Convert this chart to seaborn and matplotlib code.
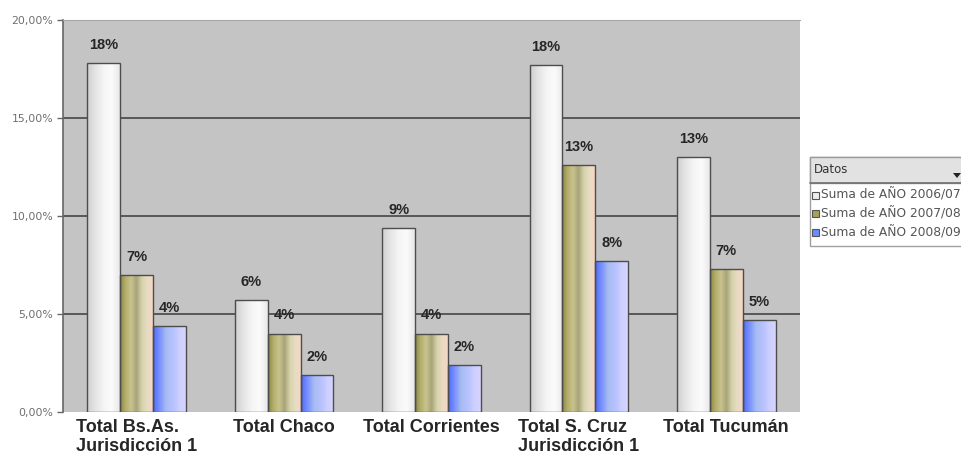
import numpy as np
import pandas as pd
import seaborn as sns
import matplotlib.pyplot as plt
from matplotlib.colors import LinearSegmentedColormap
from matplotlib.patches import Rectangle, Polygon
from matplotlib.ticker import FuncFormatter

# Categories and series (percent values)
regiones = ["Total Bs.As.\nJurisdicción 1", "Total Chaco", "Total Corrientes",
            "Total S. Cruz\nJurisdicción 1", "Total Tucumán"]
series = ["Suma de AÑO 2006/07", "Suma de AÑO 2007/08", "Suma de AÑO 2008/09"]
anio_2006_07 = [17.8, 5.7, 9.4, 17.7, 13.0]
anio_2007_08 = [7.0, 4.0, 4.0, 12.6, 7.3]
anio_2008_09 = [4.4, 1.9, 2.4, 7.7, 4.7]
y_ticks = [0, 5, 10, 15, 20]
titulo_leyenda = "Datos"

df = pd.DataFrame({
    "region": regiones * 3,
    "serie": np.repeat(series, len(regiones)),
    "valor": anio_2006_07 + anio_2007_08 + anio_2008_09,
})

# Horizontal gradient stops per series, left to right
gradientes = [
    ["#cfcfcf", "#e4e4e4", "#f5f5f5", "#fbfbfb", "#e8e8e8"],
    ["#8c8742", "#b3ae6a", "#c9c48e", "#a8a479", "#d6d3ab", "#e8dcc4", "#f6d6c4"],
    ["#4a6bff", "#7b90ff", "#a6bdf0", "#b6c1ff", "#cccfff", "#d8d5ff"],
]
colores_leyenda = ["#eeeeee", "#a6a258", "#6a8cff"]

sns.set_style("white")
plt.rcParams["font.family"] = ["Liberation Sans", "DejaVu Sans"]

W, H = 962, 457
fig = plt.figure(figsize=(W / 100, H / 100), dpi=100)
ax = fig.add_axes([63 / W, 45 / H, 737 / W, 392 / H])

sns.barplot(data=df, x="region", y="valor", hue="serie", hue_order=series,
            order=regiones, width=0.67, saturation=1, legend=False,
            edgecolor="#4d4d4d", linewidth=1.0, ax=ax, zorder=3)

ax.set_facecolor("#c4c4c4")
ax.set_ylim(0, 20)
ax.set_xlim(-0.5, len(regiones) - 0.5)
ax.set_yticks(y_ticks)
ax.yaxis.set_major_formatter(FuncFormatter(lambda v, p: f"{v:.2f}%".replace(".", ",")))
ax.tick_params(axis="y", length=4, width=1, color="#666666", labelsize=7.8,
               labelcolor="#6e6e6e", pad=3, left=True)
ax.tick_params(axis="x", length=0, labelsize=13, pad=5)
for lbl in ax.get_xticklabels():
    lbl.set_fontweight("bold")
    lbl.set_multialignment("left")
    lbl.set_linespacing(1.15)
for lbl in ax.get_yticklabels():
    lbl.set_family("DejaVu Sans")
ax.set_xlabel("")
ax.set_ylabel("")

# Horizontal gridlines
for v in y_ticks[1:-1]:
    ax.axhline(v, color="#4f4f4f", lw=1.3, zorder=1)

ax.spines["left"].set_color("#666666")
ax.spines["left"].set_linewidth(1.2)
ax.spines["top"].set_color("#a8a8a8")
ax.spines["right"].set_visible(False)
ax.spines["bottom"].set_visible(False)

# Gradient fills clipped to each bar, plus value labels
for cont, stops, vals in zip(ax.containers, gradientes,
                             [anio_2006_07, anio_2007_08, anio_2008_09]):
    cmap = LinearSegmentedColormap.from_list("g", stops)
    grad = np.linspace(0, 1, 256)[None, :]
    for bar in cont:
        x0, y0 = bar.get_x(), bar.get_y()
        w, h = bar.get_width(), bar.get_height()
        im = ax.imshow(grad, cmap=cmap, aspect="auto", interpolation="bilinear",
                       extent=[x0, x0 + w, y0, y0 + h], zorder=2)
        im.set_clip_path(bar)
        bar.set_facecolor("none")
    ax.bar_label(cont, labels=[f"{v:.0f}%" for v in vals], padding=8,
                 fontsize=10.5, fontweight="bold", color="#262626")

ax.set_xlim(-0.5, len(regiones) - 0.5)
ax.set_ylim(0, 20)


# Legend panel drawn in pixel coordinates
def fx(px):
    return px / W


def fy(py):
    return 1 - py / H


lx0, lx1 = 810, 975
ty, hy, by = 157, 183, 246
fig.patches.append(Rectangle((fx(lx0), fy(by)), fx(lx1 - lx0), (by - ty) / H,
                             transform=fig.transFigure, facecolor="white",
                             edgecolor="#a0a0a0", lw=1, zorder=5))
fig.patches.append(Rectangle((fx(lx0), fy(hy)), fx(lx1 - lx0), (hy - ty) / H,
                             transform=fig.transFigure, facecolor="#e2e2e2",
                             edgecolor="#9a9a9a", lw=1, zorder=6))
fig.lines.append(plt.Line2D([fx(lx0), fx(lx1)], [fy(hy), fy(hy)],
                            transform=fig.transFigure, color="#707070", lw=1.2, zorder=7))
fig.text(fx(814), fy(170), titulo_leyenda, fontsize=8.5, color="#333333",
         va="center", ha="left", family="DejaVu Sans", zorder=8)
fig.patches.append(Polygon([[fx(953), fy(173)], [fx(961), fy(173)], [fx(957), fy(178)]],
                           closed=True, transform=fig.transFigure, facecolor="#222222",
                           edgecolor="none", zorder=8))
for i, (nombre, col) in enumerate(zip(series, colores_leyenda)):
    yy = 195 + i * 19
    fig.patches.append(Rectangle((fx(812), fy(yy + 3.5)), fx(7), 7 / H,
                                 transform=fig.transFigure, facecolor=col,
                                 edgecolor="#555555", lw=0.8, zorder=8))
    fig.text(fx(821), fy(yy), nombre, fontsize=8.8, color="#555555",
             va="center", ha="left", family="DejaVu Sans", zorder=8)

fig.savefig("out.png", dpi=100, facecolor="white")
